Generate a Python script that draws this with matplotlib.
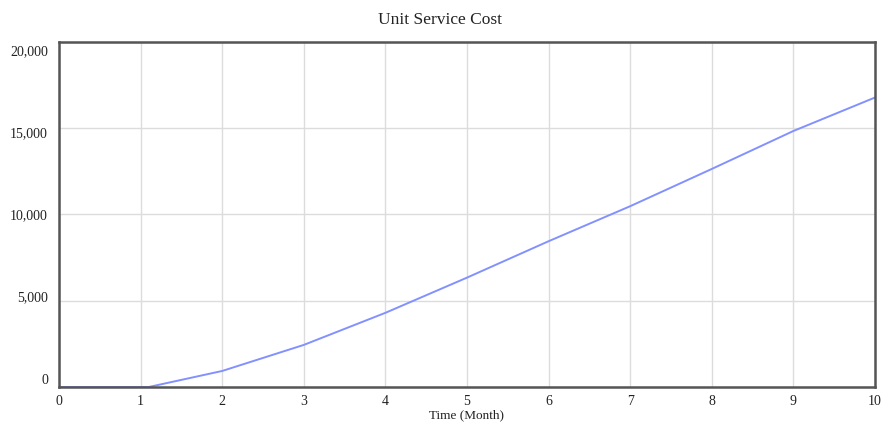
import matplotlib
matplotlib.use("Agg")
from matplotlib import pyplot as plt
from matplotlib import transforms

# values
months = [0, 1, 1.1, 2, 3, 4, 5, 6, 7, 8, 9, 10]
unit_cost = [0, 0, 0, 930, 2440, 4300, 6340, 8450, 10480, 12640, 14840, 16780]
x_ticks = list(range(0, 11))
y_ticks = [0, 5000, 10000, 15000, 20000]

plt.rcParams['font.family'] = ['Liberation Serif', 'DejaVu Serif']

fig = plt.figure(figsize=(8.82, 4.25), dpi=100)
ax = fig.add_axes([0.0669, 0.0894, 0.9251, 0.8118])

ax.plot(months, unit_cost, color="#8391ff", linewidth=1.4)

ax.set_xlim(0, 10)
ax.set_ylim(0, 20000)
ax.set_xticks(x_ticks)
ax.set_yticks(y_ticks)
ax.set_yticklabels([f"{v:,}" for v in y_ticks])
ax.grid(color="#dcdcdc", linewidth=1)
ax.set_axisbelow(True)
ax.tick_params(length=0, labelsize=10, colors="#222222", pad=6)
ax.tick_params(axis="y", pad=8)

for s in ax.spines.values():
    s.set_color("#555555")
    s.set_linewidth(1.8)

# the y labels in the original are pulled in toward the middle
for lab, v in zip(ax.get_yticklabels(), y_ticks):
    dy = -(v - 10000) / 10000 * 8.5 / 100
    lab.set_transform(lab.get_transform() + transforms.ScaledTranslation(0, dy, fig.dpi_scale_trans))

# title sits on the figure centre, not the axes centre
fig.text(0.499, 0.953, "Unit Service Cost", fontsize=12.5, color="#222222", ha="center", va="center")
ax.set_xlabel("Time (Month)", fontsize=9.5, color="#222222", labelpad=1)

fig.savefig("out.png", dpi=100)
